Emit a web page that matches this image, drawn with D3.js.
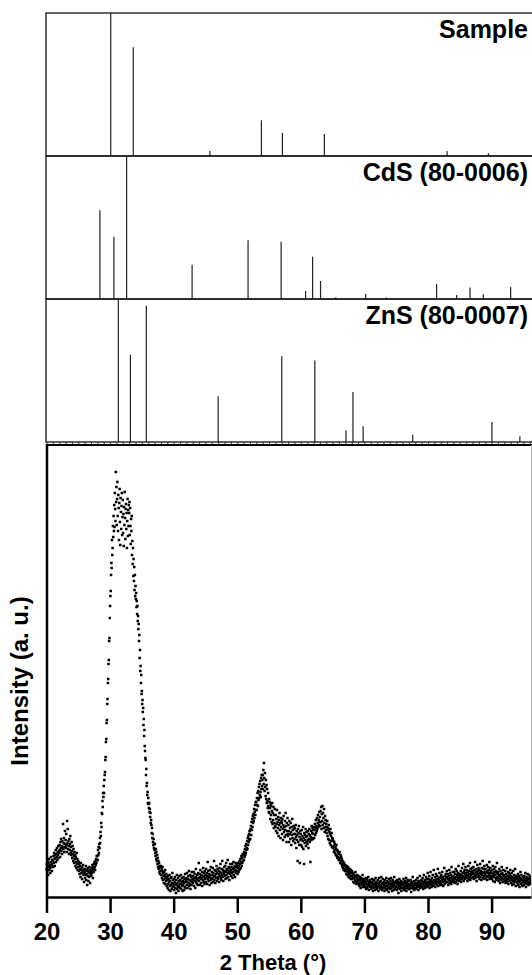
<!DOCTYPE html>
<html>
<head>
<meta charset="utf-8">
<script src="https://cdn.jsdelivr.net/npm/d3@7"></script>
<style>
  body { margin: 0; background: #fff; }
  svg { display: block; }
</style>
</head>
<body>
<div id="chart"></div>
<script>
// reference patterns: peak positions (2 theta) and relative heights (%)
var panelNames = ["Sample", "CdS (80-0006)", "ZnS (80-0007)"];
var sampleTheta = [30.1, 33.65, 45.7, 53.8, 57.1, 63.7, 83.0, 89.5];
var sampleRel   = [100, 76, 3.5, 25, 16, 15.4, 3.5, 2];
var cdsTheta = [28.4, 30.6, 32.6, 42.9, 51.7, 56.9, 60.75, 61.85, 63.1, 65.5, 70.2, 73.5, 81.35, 84.5, 86.6, 88.7, 93.0];
var cdsRel   = [62, 43.6, 100, 24, 41, 40, 5.6, 29.6, 12.6, 1, 3.5, 1, 10.5, 2.8, 8, 3.3, 8.4];
var znsTheta = [31.3, 33.2, 35.7, 47.0, 57.0, 62.2, 67.1, 68.2, 69.8, 77.6, 90.05, 94.45];
var znsRel   = [100, 61, 95.3, 32, 60, 57, 8, 35, 11, 5, 14, 4];

var xTicks = [20, 30, 40, 50, 60, 70, 80, 90];

// measured scan, starts at 20 deg, step 0.05 deg (intensity, a.u.)
var scanStart = 20, scanStep = 0.05;
var scan20 = [
  28,33,25,36,30,22,34,31,38,27,32,29,24,35,40,30,33,26,37,31,
  36,30,41,34,44,38,31,42,39,47,35,43,40,49,37,45,42,51,39,46,
  44,52,47,40,55,49,58,46,51,43,56,50,73,48,54,59,45,53,66,50,
  57,49,63,52,45,76,54,68,48,56,51,43,58,47,53,61,44,50,42,55,
  46,39,51,43,36,48,41,34,45,38,42,31,40,35,29,44,33,38,27,36,
  30,35,26,33,23,31,28,20,34,27,24,30,18,29,25,32,22,27,15,26,
  24,19,28,22,31,17,26,23,12,27,21,29,16,25,20,30,24,14,27,22,
  26,21,29,24,32,27,19,30,25,33,28,35,30,27,36,32,38,34,41,37,
  41,37,47,42,50,44,53,49,59,54,65,61,74,70,84,83,96,90,104,100,
  111,104,117,122,125,137,140,155,158,174,177,193,198,214,218,233,237,256,259,279
];
var scan30 = [
  291,301,306,322,334,329,357,342,349,371,360,381,366,392,370,404,388,376,425,395,
  410,372,398,415,381,366,402,389,357,394,408,375,352,399,385,368,391,404,362,380,
  397,364,383,351,390,372,405,379,358,388,393,368,384,349,376,398,361,387,371,392,
  384,395,362,389,371,353,378,366,381,342,356,333,349,321,338,316,330,307,322,301,
  311,298,304,290,296,283,291,276,281,268,273,256,262,239,247,226,231,214,222,203,
  206,193,197,185,189,172,178,161,167,151,146,139,137,122,128,111,114,102,105,94,
  99,93,89,94,85,88,80,84,74,77,72,64,69,59,63,55,52,58,49,53,
  47,53,44,41,48,38,45,36,42,33,39,30,36,28,34,25,31,23,30,26,
  31,22,28,19,26,30,17,24,21,14,25,18,22,27,13,20,16,23,11,19,
  17,9,21,13,18,7,15,22,11,16,6,19,12,20,8,14,24,10,17,13
];
var scan40 = [
  11,18,7,15,20,9,13,4,17,12,22,8,14,10,19,6,16,11,21,13,
  9,17,13,22,8,15,19,11,6,16,12,20,14,7,18,10,23,15,9,17,
  19,12,24,15,9,18,21,14,26,11,17,13,22,8,16,20,12,25,15,18,
  21,14,17,25,11,19,23,16,9,20,28,15,18,13,22,17,12,24,19,34,
  16,23,12,20,27,18,14,22,19,25,11,21,17,29,15,24,20,13,26,18,
  22,15,28,19,24,13,21,35,18,26,16,23,20,12,27,22,17,30,19,14,
  25,18,22,29,15,24,20,36,17,27,21,14,26,23,19,31,16,24,28,20,
  18,26,23,15,29,21,25,33,19,24,17,28,22,36,20,27,16,25,23,30,
  26,21,31,18,25,34,22,28,19,27,37,24,20,30,26,17,29,23,33,25,
  27,21,30,24,33,19,28,25,35,22,29,26,31,20,27,34,24,30,26,32
];
var scan50 = [
  30,23,29,34,25,31,27,36,28,33,38,29,35,41,31,39,34,43,36,42,
  43,37,45,40,48,42,51,44,53,47,49,56,48,59,52,61,55,63,57,66,
  66,58,68,71,62,75,67,78,70,81,74,83,76,88,79,85,92,82,95,87,
  95,87,99,92,104,91,106,97,110,99,113,102,116,105,100,119,108,122,111,117,
  122,108,127,113,134,119,106,124,110,101,117,98,112,94,108,96,89,104,91,85,
  98,84,95,89,78,93,82,91,75,86,94,73,84,77,90,69,82,74,88,71,
  70,82,66,78,73,87,64,75,69,80,61,77,72,84,67,74,59,79,70,76,
  74,63,78,68,57,72,81,65,70,60,76,67,84,62,71,55,74,66,79,63,
  61,72,66,55,76,63,69,58,74,65,52,70,62,78,59,67,56,71,63,68,
  58,69,54,63,72,60,49,66,57,62,36,68,55,64,71,52,60,34,66,57
];
var scan60 = [
  63,52,58,67,50,61,56,70,48,59,33,64,54,62,57,68,51,60,65,55,
  61,53,66,57,49,63,58,68,55,62,35,60,66,57,71,59,64,69,58,67,
  63,70,59,67,73,62,69,77,64,71,66,79,68,74,82,70,77,72,85,75,
  80,71,86,75,90,68,83,76,91,72,84,79,69,88,74,65,81,70,77,67,
  73,64,70,76,61,69,58,67,72,57,65,54,63,68,52,61,56,64,50,59,
  58,49,56,51,45,55,47,53,44,50,42,48,52,41,47,39,46,40,44,37,
  43,37,45,39,34,42,36,40,33,38,31,36,29,35,32,27,34,28,31,26,
  32,26,29,23,31,27,22,28,25,30,20,26,23,28,19,25,21,27,18,24,
  21,26,18,23,20,15,24,19,22,14,20,17,25,16,21,13,19,22,15,18,
  16,21,13,18,11,17,20,14,9,16,19,12,17,14,22,10,15,18,12,16
];
var scan70 = [
  13,17,10,15,19,8,14,12,18,9,16,11,20,13,7,15,12,17,10,14,
  11,15,8,14,18,10,13,6,16,12,9,17,11,14,7,19,12,10,15,8,
  14,9,17,11,6,13,19,10,15,12,8,16,11,20,9,13,7,14,18,10,
  9,15,12,6,17,10,13,8,14,19,11,7,16,12,9,15,5,13,18,10,
  13,8,16,11,19,9,14,6,12,17,10,15,7,13,20,11,8,14,10,16,
  10,14,7,17,12,9,15,4,13,11,18,8,14,10,16,12,6,15,9,13,
  15,9,12,18,7,13,10,16,8,14,11,19,6,12,15,9,17,11,13,8,
  11,16,8,13,10,17,12,5,14,9,15,11,20,8,13,10,16,7,12,14,
  9,14,12,17,8,13,10,19,11,15,7,13,16,10,21,12,9,14,11,17,
  12,16,10,19,13,8,15,22,11,14,17,9,16,12,20,14,10,18,13,24
];
var scan80 = [
  15,11,18,13,21,9,16,14,25,12,17,10,19,15,13,22,11,16,27,14,
  17,13,20,10,16,23,14,18,12,21,15,28,11,17,19,14,24,16,12,20,
  14,19,22,12,17,25,15,20,11,18,16,29,13,21,17,14,23,19,15,26,
  20,15,23,18,12,21,17,27,14,19,24,16,22,13,30,18,20,15,25,17,
  21,16,25,19,14,23,18,28,15,20,26,17,22,13,24,19,31,16,21,18,
  23,17,20,26,15,22,19,29,18,24,21,33,16,25,20,27,18,23,30,21,
  24,19,27,22,16,25,21,31,18,26,23,20,34,17,28,22,25,19,29,23,
  26,20,24,30,18,23,27,21,35,19,25,22,28,16,24,32,20,26,23,29,
  21,27,18,24,33,20,26,23,17,29,22,25,36,19,24,28,21,31,18,25,
  23,28,19,25,21,32,17,26,24,30,20,27,22,35,18,24,29,21,26,19
];
var scan90 = [
  24,18,27,21,31,16,23,20,28,25,15,22,30,19,26,17,24,34,20,23,
  19,25,16,22,28,18,21,14,26,20,23,17,30,19,24,15,22,27,18,21,
  22,16,20,26,14,19,23,17,29,15,21,18,25,13,20,24,16,22,19,27,
  17,21,14,24,19,12,20,16,26,18,13,22,15,19,28,17,11,21,18,15,
  20,14,18,23,12,17,21,15,10,19,16,25,13,18,22,14,17,11,20,16,
  15,19,12,21,17,14,24,16,10,18,20,13,17,23,15,19,12,18,22,14,
  17,13,20,15,18
];

var width = 532, height = 975;
var plotLeft = 46.5, plotRight = 531;

var svg = d3.select("#chart")
  .append("svg")
  .attr("width", width)
  .attr("height", height)
  .style("font-family", "'Liberation Sans', Arial, sans-serif")
  .style("font-weight", "bold");

var x = d3.scaleLinear()
    .domain([20, 96.2])
    .range([plotLeft, plotRight]);

// ---- stick panels ----
var panels = [
  {name: panelNames[0], theta: sampleTheta, rel: sampleRel, top: 13,  bottom: 156},
  {name: panelNames[1], theta: cdsTheta,    rel: cdsRel,    top: 156, bottom: 299},
  {name: panelNames[2], theta: znsTheta,    rel: znsRel,    top: 299, bottom: 442}
];

panels.forEach(function(p) {
  var y = d3.scaleLinear().domain([0, 100]).range([p.bottom, p.top]);
  var g = svg.append("g");

  g.selectAll("line")
    .data(d3.zip(p.theta, p.rel))
    .enter()
    .append("line")
      .attr("x1", function(d) { return x(d[0]); })
      .attr("x2", function(d) { return x(d[0]); })
      .attr("y1", y(0))
      .attr("y2", function(d) { return y(d[1]); })
      .attr("stroke", "#222")
      .attr("stroke-width", 1.2);

  g.append("rect")
    .attr("x", 46)
    .attr("y", p.top)
    .attr("width", 560)
    .attr("height", p.bottom - p.top)
    .attr("fill", "none")
    .attr("stroke", "#111")
    .attr("stroke-width", 1.3);

  g.append("text")
    .attr("x", 528)
    .attr("y", p.top + 25)
    .attr("text-anchor", "end")
    .style("font-size", "25px")
    .text(p.name);
});

// minor ticks under the ZnS panel
svg.append("g")
  .attr("transform", "translate(0,442)")
  .call(d3.axisBottom(x).tickValues(d3.range(20, 97, 1)).tickSize(3).tickSizeOuter(0).tickFormat(""))
  .call(function(g) { g.select(".domain").remove(); })
  .selectAll("line").attr("stroke", "#333");

// ---- measured pattern ----
var yI = d3.scaleLinear().domain([0, 452]).range([897, 445]);
var scan = [].concat(scan20, scan30, scan40, scan50, scan60, scan70, scan80, scan90);

svg.append("g")
  .selectAll("rect")
  .data(scan)
  .enter()
  .append("rect")
    .attr("x", function(d, i) { return x(scanStart + i * scanStep) - 1.25; })
    .attr("y", function(d) { return yI(d) - 1.25; })
    .attr("width", 2.5)
    .attr("height", 2.5)
    .attr("fill", "#000");

// frame of the lower plot
svg.append("line").attr("x1", 46).attr("x2", 532).attr("y1", 445).attr("y2", 445)
  .attr("stroke", "#000").attr("stroke-width", 2);
svg.append("line").attr("x1", 47).attr("x2", 47).attr("y1", 444).attr("y2", 898)
  .attr("stroke", "#000").attr("stroke-width", 2.5);
svg.append("line").attr("x1", 531.5).attr("x2", 531.5).attr("y1", 445).attr("y2", 897)
  .attr("stroke", "#bbb").attr("stroke-width", 1);

var xAxis = svg.append("g")
  .attr("transform", "translate(0,897)")
  .call(d3.axisBottom(x).tickValues(xTicks).tickSize(16).tickSizeOuter(0).tickPadding(10));
xAxis.select(".domain").attr("stroke", "#000").attr("stroke-width", 2.5);
xAxis.selectAll(".tick line").attr("stroke", "#000").attr("stroke-width", 2.5);
xAxis.selectAll(".tick text")
  .attr("fill", "#000")
  .style("font-family", "'Liberation Sans', Arial, sans-serif")
  .style("font-weight", "bold")
  .style("font-size", "24px");

svg.append("text")
  .attr("x", 273)
  .attr("y", 970)
  .attr("text-anchor", "middle")
  .style("font-size", "22px")
  .text("2 Theta (°)");

svg.append("text")
  .attr("transform", "translate(28,681) rotate(-90)")
  .attr("text-anchor", "middle")
  .style("font-size", "24px")
  .text("Intensity (a. u.)");
</script>
</body>
</html>
